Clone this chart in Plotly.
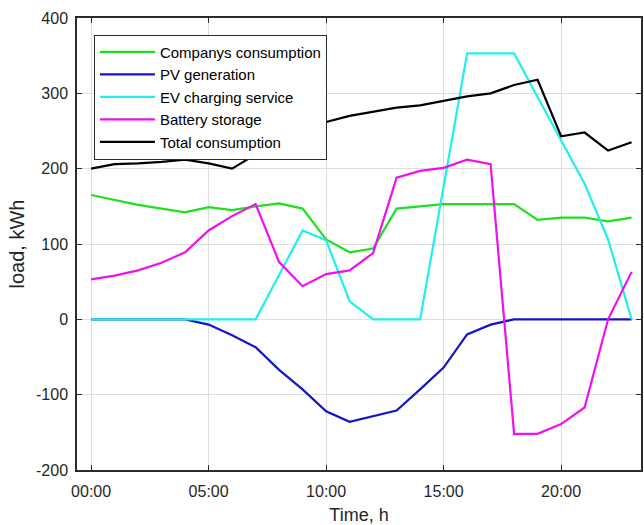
import plotly.graph_objects as go

hours = list(range(24))
tick_vals = [0, 5, 10, 15, 20]
tick_text = ["00:00", "05:00", "10:00", "15:00", "20:00"]
y_tick_vals = [-200, -100, 0, 100, 200, 300, 400]
y_tick_text = ["-200", "-100", "0", "100", "200", "300", "400"]

companys = [165, 158, 152, 147, 142, 149, 145, 150, 154, 147, 106, 89, 94, 147, 150, 153, 153, 153, 153, 132, 135, 135, 130, 135]
pv = [0, 0, 0, 0, 0, -7, -21, -37, -67, -93, -122, -136, -128, -121, -93, -64, -20, -7, 0, 0, 0, 0, 0, 0]
ev = [0, 0, 0, 0, 0, 0, 0, 0, 59, 118, 105, 24, 0, 0, 0, 176, 353, 353, 353, 295, 238, 180, 106, 0]
battery = [53, 58, 65, 75, 89, 118, 137, 153, 76, 44, 60, 65, 88, 188, 197, 201, 212, 206, -152, -152, -139, -117, 0, 63]
total = [200, 206, 207, 209, 212, 207, 200, 219, 241, 252, 262, 270, 276, 281, 284, 290, 296, 300, 311, 318, 243, 248, 224, 235]

series = [
    ("Companys consumption", companys, "#1ee01e"),
    ("PV generation", pv, "#1414c8"),
    ("EV charging service", ev, "#22eeee"),
    ("Battery storage", battery, "#ee11ee"),
    ("Total consumption", total, "#000000"),
]

fig = go.Figure()
for name, vals, color in series:
    fig.add_trace(go.Scatter(x=hours, y=vals, name=name, mode="lines",
                             line=dict(color=color, width=2.2)))

axis_common = dict(
    showgrid=True, gridcolor="#dedede", gridwidth=1,
    showline=True, linecolor="#2b2b2b", linewidth=1.5, mirror="allticks",
    ticks="inside", ticklen=5, tickcolor="#2b2b2b",
    zeroline=False,
    tickfont=dict(family="Liberation Sans, Arial", size=16, color="#262626"),
)

fig.update_layout(
    width=644, height=525,
    margin=dict(l=77, r=1, t=18, b=55),
    paper_bgcolor="white", plot_bgcolor="white",
    font=dict(family="Liberation Sans, Arial", size=16, color="#262626"),
    xaxis=dict(range=[-0.6, 23.4], tickvals=tick_vals, ticktext=tick_text,
               ticklabelstandoff=6,
               title=dict(text="Time, h", font=dict(size=18), standoff=9), **axis_common),
    yaxis=dict(range=[-200, 400], tickvals=y_tick_vals, ticktext=y_tick_text,
               ticklabelstandoff=4,
               title=dict(text="load, kWh", font=dict(size=20), standoff=6), **axis_common),
    legend=dict(x=0.03, y=0.963, xanchor="left", yanchor="top",
                bgcolor="white", bordercolor="#2b2b2b", borderwidth=1,
                font=dict(size=15, color="#000000"), itemwidth=55,
                tracegroupgap=0),
    showlegend=True,
)

fig.write_html("out.html")
